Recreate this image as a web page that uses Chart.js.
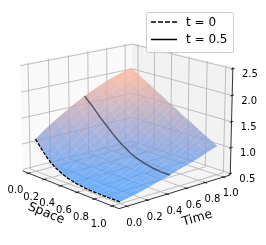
<!DOCTYPE html>
<html>
<head>
<meta charset="utf-8">
<style>
html, body { margin: 0; padding: 0; background: #fff; }
#wrap { width: 266px; height: 245px; }
</style>
<script src="https://cdn.jsdelivr.net/npm/chart.js@4"></script>
</head>
<body>
<div id="wrap"><canvas id="chart" width="266" height="245"></canvas></div>
<script>
// values
const spaceValues = [0, 0.05, 0.1, 0.15, 0.2, 0.25, 0.3, 0.35, 0.4, 0.45, 0.5, 0.55, 0.6, 0.65, 0.7, 0.75, 0.8, 0.85, 0.9, 0.95, 1];
const timeValues = [0, 0.1, 0.2, 0.3, 0.4, 0.5, 0.6, 0.7, 0.8, 0.9, 1];
// one row per time, one column per space
const surfaceValues = [
  [1.10, 1.00, 0.90, 0.81, 0.74, 0.68, 0.64, 0.60, 0.57, 0.55, 0.53, 0.52, 0.51, 0.50, 0.50, 0.50, 0.50, 0.50, 0.50, 0.50, 0.50],
  [1.25, 1.15, 1.05, 0.96, 0.88, 0.81, 0.76, 0.71, 0.66, 0.63, 0.60, 0.57, 0.56, 0.54, 0.54, 0.53, 0.53, 0.53, 0.53, 0.54, 0.54],
  [1.38, 1.29, 1.19, 1.10, 1.01, 0.94, 0.88, 0.81, 0.76, 0.71, 0.68, 0.64, 0.62, 0.60, 0.59, 0.58, 0.57, 0.57, 0.57, 0.58, 0.58],
  [1.50, 1.41, 1.32, 1.23, 1.14, 1.06, 0.99, 0.92, 0.86, 0.80, 0.76, 0.71, 0.68, 0.66, 0.64, 0.63, 0.62, 0.62, 0.62, 0.62, 0.63],
  [1.62, 1.53, 1.45, 1.35, 1.26, 1.18, 1.11, 1.03, 0.96, 0.90, 0.85, 0.80, 0.76, 0.74, 0.71, 0.70, 0.68, 0.68, 0.67, 0.68, 0.68],
  [1.72, 1.64, 1.56, 1.47, 1.38, 1.30, 1.22, 1.14, 1.07, 1.00, 0.95, 0.89, 0.85, 0.82, 0.79, 0.77, 0.75, 0.74, 0.73, 0.73, 0.73],
  [1.81, 1.74, 1.66, 1.58, 1.49, 1.41, 1.33, 1.25, 1.18, 1.11, 1.06, 0.99, 0.95, 0.91, 0.88, 0.85, 0.83, 0.81, 0.80, 0.79, 0.79],
  [1.90, 1.83, 1.76, 1.68, 1.59, 1.52, 1.44, 1.37, 1.30, 1.22, 1.17, 1.11, 1.06, 1.02, 0.98, 0.95, 0.91, 0.89, 0.87, 0.86, 0.84],
  [1.97, 1.90, 1.84, 1.77, 1.69, 1.62, 1.55, 1.48, 1.41, 1.34, 1.29, 1.23, 1.17, 1.13, 1.09, 1.05, 1.01, 0.98, 0.95, 0.93, 0.90],
  [2.03, 1.97, 1.92, 1.85, 1.78, 1.72, 1.66, 1.59, 1.53, 1.47, 1.42, 1.36, 1.30, 1.26, 1.21, 1.17, 1.12, 1.08, 1.04, 1.00, 0.97],
  [2.08, 2.03, 1.98, 1.92, 1.87, 1.82, 1.76, 1.71, 1.66, 1.60, 1.55, 1.50, 1.44, 1.39, 1.34, 1.29, 1.23, 1.18, 1.13, 1.08, 1.03]
];
const spaceTicks = [0, 0.2, 0.4, 0.6, 0.8, 1];
const timeTicks = [0, 0.2, 0.4, 0.6, 0.8, 1];
const heightTicks = [0.5, 1, 1.5, 2, 2.5];
const legendLabels = ["t = 0", "t = 0.5"];
const legendRows = [0, 5];

// camera, same idea as a matplotlib 3d axes
const xLim = [-0.075, 1.075], yLim = [-0.075, 1.075], zLim = [0.47, 2.53];
const elev = 16 * Math.PI / 180, azim = -41.5 * Math.PI / 180, dist = 10;
const box = [1.1905, 1.1905, 0.8929];
const scalePx = 1250, centerX = 126, centerY = 120;

const w = [Math.cos(elev) * Math.cos(azim), Math.cos(elev) * Math.sin(azim), Math.sin(elev)];
const uLen = Math.hypot(w[0], w[1]);
const u = [-w[1] / uLen, w[0] / uLen, 0];
const v = [w[1] * u[2] - w[2] * u[1], w[2] * u[0] - w[0] * u[2], w[0] * u[1] - w[1] * u[0]];

function dot(a, b) { return a[0] * b[0] + a[1] * b[1] + a[2] * b[2]; }

function project(x, y, z) {
  const p = [
    (x - xLim[0]) / (xLim[1] - xLim[0]) * box[0] - box[0] / 2 - dist * w[0],
    (y - yLim[0]) / (yLim[1] - yLim[0]) * box[1] - box[1] / 2 - dist * w[1],
    (z - zLim[0]) / (zLim[1] - zLim[0]) * box[2] - box[2] / 2 - dist * w[2]
  ];
  const depth = -dot(w, p);
  return { x: dot(u, p) / depth, y: dot(v, p) / depth };
}

function lineSet(points, color, width, dash) {
  return {
    data: points.map(function (p) { return project(p[0], p[1], p[2]); }),
    showLine: true, pointRadius: 0, borderColor: color, borderWidth: width,
    borderDash: dash || [], fill: false, tension: 0, clip: false
  };
}

function shapeSet(points, color) {
  const set = lineSet(points, color, 0);
  set.fill = "shape";
  set.backgroundColor = color;
  return set;
}

// blue -> lavender -> peach
function surfaceColor(z) {
  const stops = [[0.5, 70, 155, 255], [1.25, 155, 160, 205], [2.05, 255, 178, 145]];
  let a = stops[0], b = stops[1];
  if (z > stops[1][0]) { a = stops[1]; b = stops[2]; }
  const f = Math.min(1, Math.max(0, (z - a[0]) / (b[0] - a[0])));
  return "rgba(" + [1, 2, 3].map(function (i) { return Math.round(a[i] + (b[i] - a[i]) * f); }).join(",") + ",0.78)";
}

const datasets = [];
const x0 = xLim[0], x1 = xLim[1], y0 = yLim[0], y1 = yLim[1], z0 = zLim[0], z1 = zLim[1];

// panes
datasets.push(shapeSet([[x0, y0, z0], [x0, y1, z0], [x0, y1, z1], [x0, y0, z1], [x0, y0, z0]], "rgb(249,249,249)"));
datasets.push(shapeSet([[x0, y1, z0], [x1, y1, z0], [x1, y1, z1], [x0, y1, z1], [x0, y1, z0]], "rgb(242,242,242)"));
datasets.push(shapeSet([[x0, y0, z0], [x1, y0, z0], [x1, y1, z0], [x0, y1, z0], [x0, y0, z0]], "rgb(245,245,245)"));

// grid
const gridColor = "rgb(176,176,176)";
spaceTicks.forEach(function (t) {
  datasets.push(lineSet([[t, y0, z0], [t, y1, z0], [t, y1, z1]], gridColor, 0.8));
});
timeTicks.forEach(function (t) {
  datasets.push(lineSet([[x1, t, z0], [x0, t, z0], [x0, t, z1]], gridColor, 0.8));
});
heightTicks.forEach(function (t) {
  datasets.push(lineSet([[x0, y0, t], [x0, y1, t], [x1, y1, t]], gridColor, 0.8));
});

// surface, far quads first
const quads = [];
for (let j = 0; j < timeValues.length - 1; j++) {
  for (let i = 0; i < spaceValues.length - 1; i++) {
    const a = surfaceValues[j][i], b = surfaceValues[j][i + 1];
    const c = surfaceValues[j + 1][i + 1], d = surfaceValues[j + 1][i];
    quads.push({
      key: timeValues[j] - spaceValues[i],
      z: (a + b + c + d) / 4,
      pts: [
        [spaceValues[i], timeValues[j], a], [spaceValues[i + 1], timeValues[j], b],
        [spaceValues[i + 1], timeValues[j + 1], c], [spaceValues[i], timeValues[j + 1], d],
        [spaceValues[i], timeValues[j], a]
      ]
    });
  }
}
quads.sort(function (p, q) { return q.key - p.key; });
quads.forEach(function (q) {
  datasets.push(shapeSet(q.pts, surfaceColor(q.z)));
});

// lines on the surface
legendRows.forEach(function (row, n) {
  const pts = spaceValues.map(function (s, i) { return [s, timeValues[row], surfaceValues[row][i]]; });
  datasets.push(lineSet(pts, n === 0 ? "#000" : "rgba(30,30,50,0.65)", n === 0 ? 1.3 : 1.5, n === 0 ? [3.5, 1.5] : []));
});

// axes and their ticks
const axisColor = "#000";
datasets.push(lineSet([[x0, y0, z0], [x1, y0, z0], [x1, y1, z0], [x1, y1, z1]], axisColor, 0.8));
spaceTicks.forEach(function (t) {
  datasets.push(lineSet([[t, y0 + 0.02, z0], [t, y0 - 0.02, z0]], axisColor, 0.8));
});
timeTicks.forEach(function (t) {
  datasets.push(lineSet([[x1 - 0.02, t, z0], [x1 + 0.02, t, z0]], axisColor, 0.8));
});
heightTicks.forEach(function (t) {
  datasets.push(lineSet([[x1, y1 - 0.02, t], [x1, y1 + 0.02, t]], axisColor, 0.8));
});

// chart.js paints the first dataset last
datasets.reverse();

const labelsPlugin = {
  id: "labels3d",
  afterDraw: function (chart) {
    const ctx = chart.ctx, sx = chart.scales.x, sy = chart.scales.y;
    function place(x, y, z) {
      const p = project(x, y, z);
      return { x: sx.getPixelForValue(p.x), y: sy.getPixelForValue(p.y) };
    }
    ctx.save();
    ctx.fillStyle = "#000";
    ctx.textAlign = "center";
    ctx.textBaseline = "middle";
    ctx.font = "10px 'DejaVu Sans'";
    spaceTicks.forEach(function (t) {
      const p = place(t, y0 - 0.13, z0 - 0.27);
      ctx.fillText(t.toFixed(1), p.x, p.y);
    });
    timeTicks.forEach(function (t) {
      const p = place(x1 + 0.08, t, z0 - 0.27);
      ctx.fillText(t.toFixed(1), p.x, p.y);
    });
    heightTicks.forEach(function (t) {
      const p = place(x1, y1, t);
      ctx.fillText(t.toFixed(1), p.x + 17, p.y + 6);
    });

    ctx.font = "12.5px 'DejaVu Sans'";
    let p = place(0.5, y0 - 0.22, z0 - 0.34);
    ctx.save();
    ctx.translate(p.x, p.y);
    ctx.rotate(22 * Math.PI / 180);
    ctx.fillText("Space", 0, 0);
    ctx.restore();
    p = place(x1 + 0.22, 0.5, z0 - 0.37);
    ctx.save();
    ctx.translate(p.x, p.y);
    ctx.rotate(-16 * Math.PI / 180);
    ctx.fillText("Time", 0, 0);
    ctx.restore();

    // legend
    ctx.beginPath();
    ctx.roundRect(146.5, 12.5, 87, 40, 2);
    ctx.fillStyle = "rgba(255,255,255,0.8)";
    ctx.fill();
    ctx.strokeStyle = "#ccc";
    ctx.lineWidth = 1;
    ctx.stroke();
    ctx.strokeStyle = "#000";
    ctx.lineWidth = 1.5;
    ctx.fillStyle = "#000";
    ctx.font = "12px 'DejaVu Sans'";
    ctx.textAlign = "left";
    legendLabels.forEach(function (label, n) {
      const ly = 22 + n * 17.5;
      ctx.setLineDash(n === 0 ? [5, 2] : []);
      ctx.beginPath();
      ctx.moveTo(151, ly);
      ctx.lineTo(177, ly);
      ctx.stroke();
      ctx.fillText(label, 186, ly + 0.5);
    });
    ctx.restore();
  }
};

new Chart(document.getElementById("chart"), {
  type: "scatter",
  data: { datasets: datasets },
  plugins: [labelsPlugin],
  options: {
    responsive: false,
    animation: false,
    layout: { padding: 0 },
    elements: { line: { borderJoinStyle: "round" } },
    plugins: { legend: { display: false }, tooltip: { enabled: false } },
    scales: {
      x: { type: "linear", display: false, min: -centerX / scalePx, max: (266 - centerX) / scalePx },
      y: { type: "linear", display: false, min: (centerY - 245) / scalePx, max: centerY / scalePx }
    }
  }
});
</script>
</body>
</html>
